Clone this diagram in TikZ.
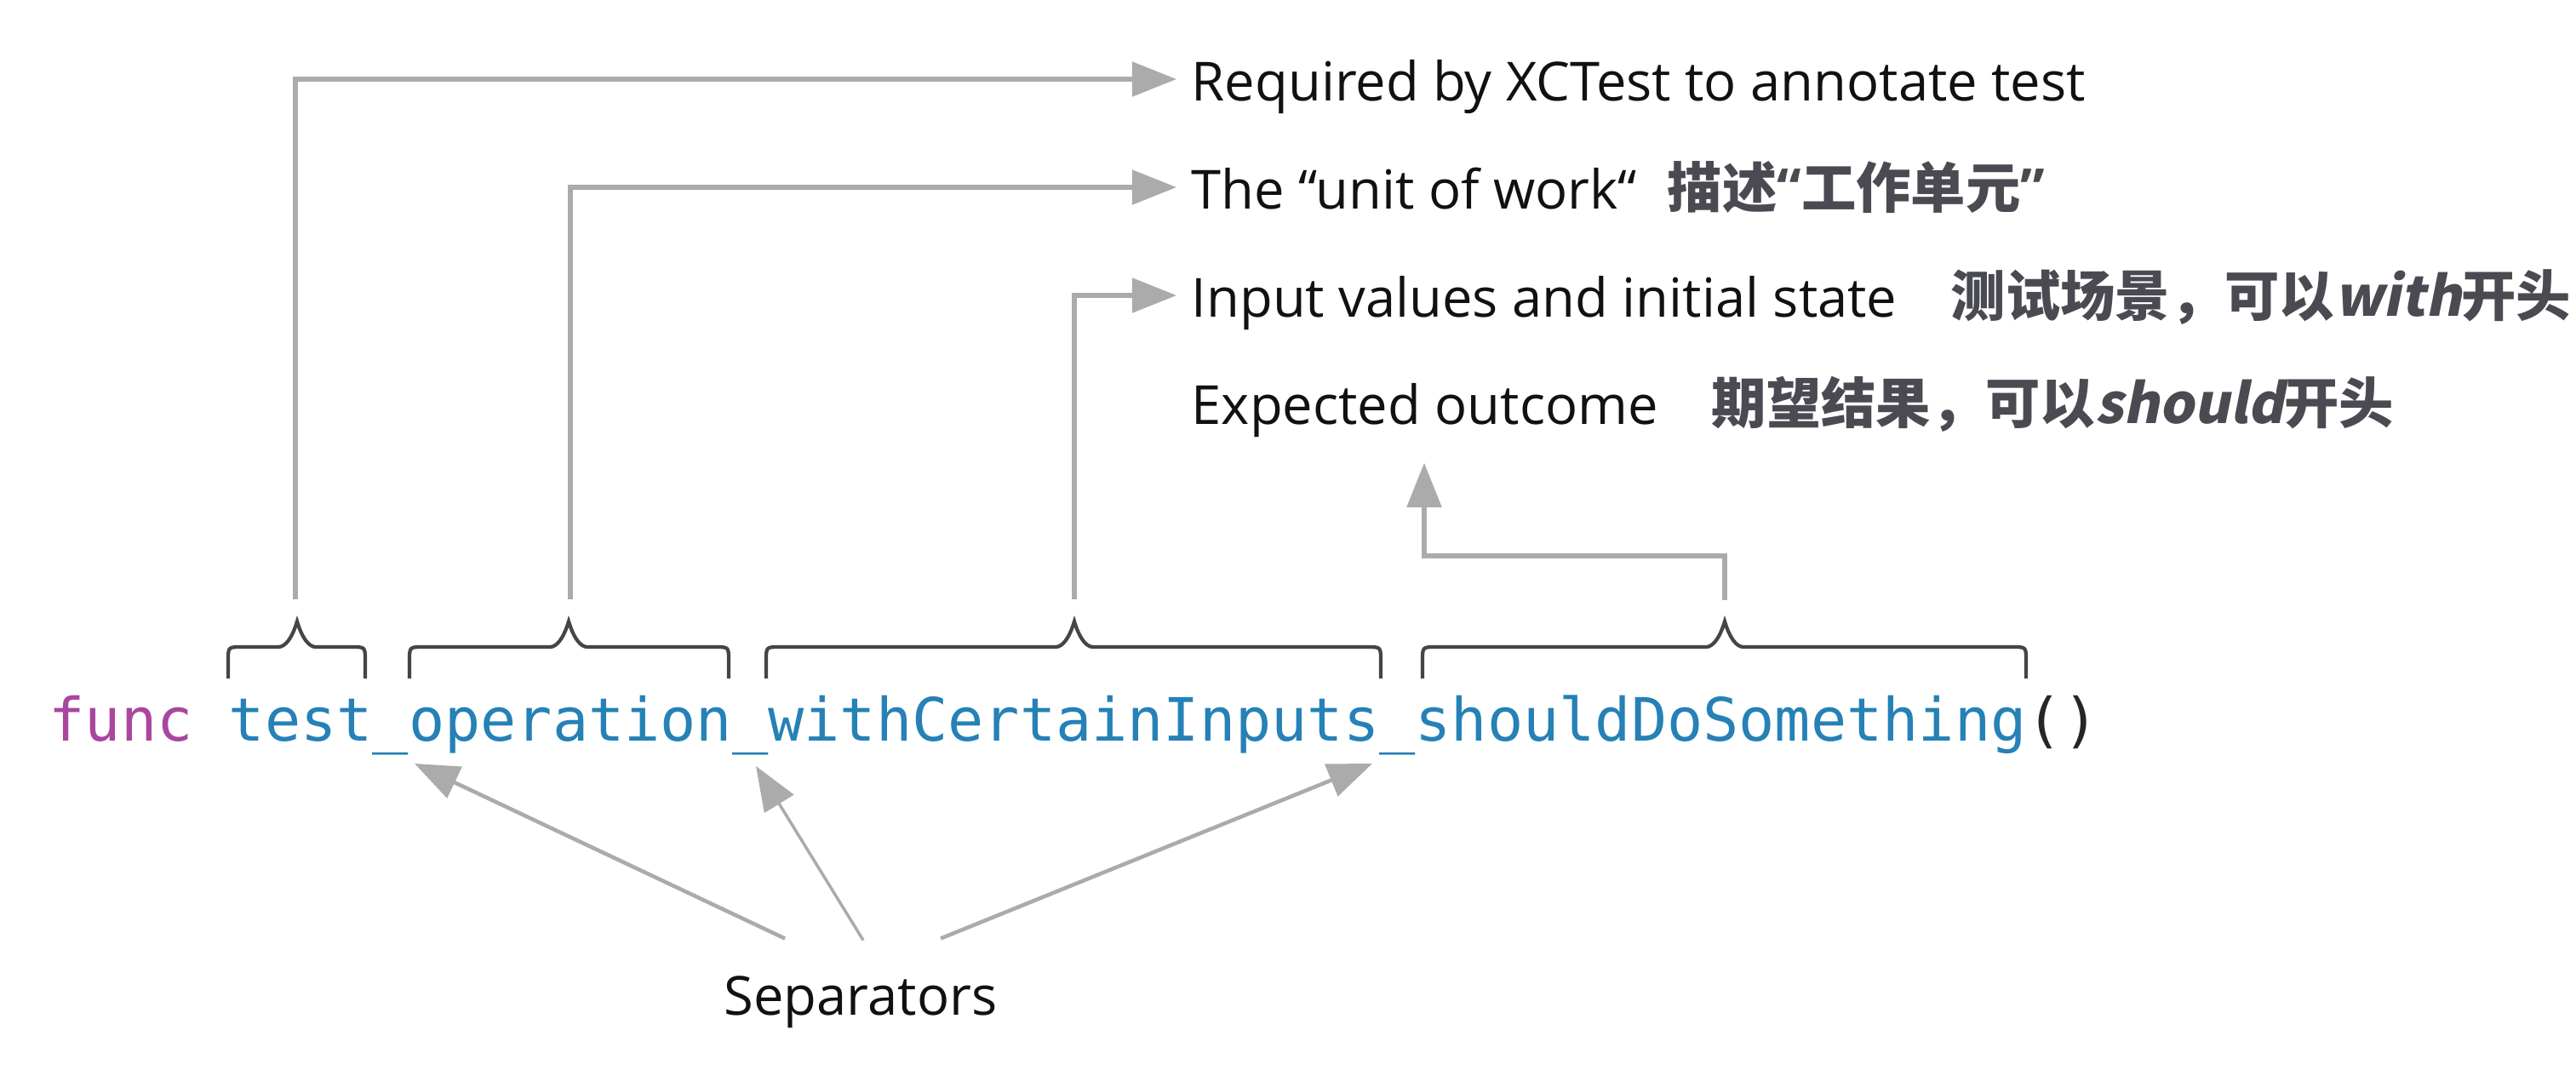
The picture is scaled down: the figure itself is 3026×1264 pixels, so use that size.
\documentclass[tikz,border=0pt]{standalone}
\usepackage{fontspec}
\setmainfont{Open Sans}
\newfontfamily\codefont{DejaVu Sans Mono}
\newfontfamily\cjk{Noto Sans CJK SC}
\newfontfamily\cjkit{Noto Sans CJK SC}[FakeSlant=0.2]
\newfontfamily\qfont{Open Sans}
\usetikzlibrary{arrows.meta}
\definecolor{kw}{HTML}{A9479F}
\definecolor{idf}{HTML}{2581B6}
\definecolor{par}{HTML}{262626}
\definecolor{cgray}{HTML}{ABABAB}
\definecolor{bgray}{HTML}{454545}
\definecolor{zh}{HTML}{4A4B52}
\definecolor{txt}{HTML}{111111}
\newcommand\mybrace[3]{%
  \draw[brace] (#1,797) -- (#1,776) .. controls (#1,760) .. (#1+16,760)
    -- (#3-22,760) .. controls (#3-14,760) and (#3-6,750) .. (#3,730)
    .. controls (#3+6,750) and (#3+14,760) .. (#3+22,760)
    -- (#2-16,760) .. controls (#2,760) .. (#2,776) -- (#2,797);}
\newcommand\zq[1]{{\qfont\bfseries #1}}
\tikzset{
  brace/.style={draw=bgray, line width=1.2pt},
  conn/.style={draw=cgray, line width=1.5pt, -{Triangle[length=0.52cm,width=0.4cm]}},
  lbl/.style={font=\fontsize{18pt}{22pt}\selectfont, text=txt, anchor=west,
    inner xsep=0.17cm, inner ysep=0pt, text height=0.6cm, text depth=0.1cm},
  zhl/.style={font=\cjk\bfseries\fontsize{18.3pt}{22pt}\selectfont, text=zh,
    anchor=base west, inner sep=0pt},
  code/.style={font=\codefont\fontsize{19.95pt}{24pt}\selectfont, anchor=base west, inner sep=0pt},
}
\begin{document}
\begin{tikzpicture}[x=0.01cm, y=-0.01cm]
\useasboundingbox (0,0) rectangle (3026,1264);
% code line
\node[code] (code) at (57,870)
  {\textcolor{kw}{func} \textcolor{idf}{test\_operation\_withCertainInputs\_shouldDoSomething}\textcolor{par}{()}};
% braces
\mybrace{268}{429}{349}
\mybrace{481}{856}{668}
\mybrace{900}{1622}{1262}
\mybrace{1671}{2380}{2026}
% connector starts above the braces
\coordinate (c1) at (347,704);
\coordinate (c2) at (670,704);
\coordinate (c3) at (1262,704);
\coordinate (c4) at (2026,705);
% labels
\node[lbl] (l1) at (1382,93) {Required by XCTest to annotate test};
\node[lbl] (l2) at (1382,220) {The “unit of work“};
\node[lbl] (l3) at (1382,347) {Input values and initial state};
\node[lbl] (l4) at (1382,473) {Expected outcome};
\node[zhl] (z2) at (1958,245) {描述\zq{“}工作单元\zq{”}};
\node[zhl] (z3) at (2291,372) {测试场景，可以{\cjkit\bfseries with}开头};
\node[zhl] (z4) at (2010,498) {期望结果，可以{\cjkit\bfseries should}开头};
% connectors
\draw[conn] (c1) |- (l1.west);
\draw[conn] (c2) |- (l2.west);
\draw[conn] (c3) |- (l3.west);
\draw[conn] (c4) -- ++(0,-52) -| ([shift={(291,35)}]l4.south west);
% separators
\node[font=\fontsize{18pt}{22pt}\selectfont, text=txt, anchor=base, inner sep=0pt] (sep) at (1011,1192) {Separators};
\coordinate (s1) at (487,897);
\coordinate (s2) at (888,900);
\coordinate (s3) at (1612,897);
\draw[conn, line width=1.3pt] ([shift={(-89,-43)}]sep.north) -- (s1);
\draw[conn, line width=1.0pt] ([shift={(3,-41)}]sep.north) -- (s2);
\draw[conn, line width=1.3pt] ([shift={(94,-43)}]sep.north) -- (s3);
\end{tikzpicture}
\end{document}
